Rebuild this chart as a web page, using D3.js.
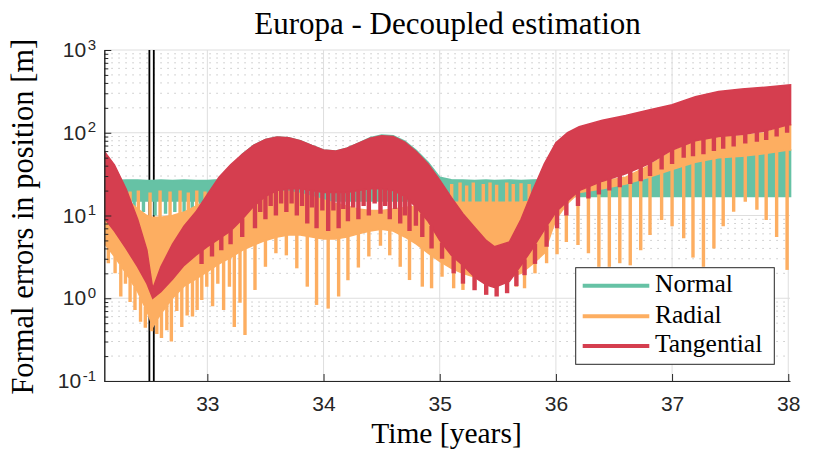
<!DOCTYPE html>
<html>
<head>
<meta charset="utf-8">
<script src="https://cdn.jsdelivr.net/npm/d3@7"></script>
<style>
  body { margin: 0; background: #fff; }
</style>
</head>
<body>
<div id="chart"></div>
<script>
// envelope sample times (years) for the three dense series
const bandT = [32.12, 32.2, 32.3, 32.4, 32.48, 32.53, 32.6, 32.7, 32.8, 32.9,
  33.0, 33.1, 33.2, 33.3, 33.4, 33.5, 33.6, 33.7, 33.8, 33.9,
  34.0, 34.1, 34.2, 34.3, 34.4, 34.5, 34.6, 34.7, 34.8, 34.9,
  35.0, 35.1, 35.2, 35.3, 35.4, 35.47, 35.6, 35.7, 35.8, 35.9,
  36.0, 36.1, 36.2, 36.4, 36.6, 36.8, 37.0, 37.2, 37.4, 37.6,
  37.8, 38.0, 38.02];

// Normal (teal)
const normalHi = [26.5, 26.5, 26.8, 26.8, 26.5, 26.5, 26.8, 26.5, 26.8, 26.5,
  26.5, 27, 38, 55, 71, 83, 89, 87, 80, 70,
  62, 60, 65, 75, 87, 94, 92, 79, 61, 44,
  29, 27, 26.8, 26.5, 26.8, 26.5, 26.8, 26.5, 26.8, 27,
  27, 27, 27, 27, 27.5, 31, 38, 46, 50, 53,
  57, 62, 62];
const normalLo = [15, 15, 15, 15, 15, 15, 15, 15, 15, 15,
  15, 15, 15, 15, 15, 15, 15, 15, 15, 15,
  15, 15, 15, 15, 15, 15, 15, 15, 15, 15,
  15, 14.5, 14.5, 14.5, 14.5, 14.5, 14.5, 14.5, 14.5, 14.5,
  17, 17, 17, 17, 17, 17, 17, 17, 17, 17,
  17, 17, 17];

// Radial (orange)
const radialHi = [22, 20, 16, 12, 10, 9.5, 9.5, 10, 11, 13,
  15, 14.5, 14.5, 15.5, 17, 18.5, 19.5, 19.5, 18.5, 17,
  15.5, 14, 13, 12, 11.5, 11.5, 12, 12.5, 13, 13.5,
  14, 14.5, 14.5, 14.5, 14.5, 14.5, 14.5, 14.5, 15, 15.5,
  17, 19, 23, 26, 29, 40, 60, 78, 88, 92,
  100, 125, 125];
const radialLo = [4.5, 3.2, 2.0, 1.2, 0.7, 0.45, 0.65, 1.0, 1.4, 1.7,
  2.1, 2.6, 3.1, 3.8, 4.4, 5, 5.5, 5.8, 5.8, 5.5,
  5.2, 5.2, 5.5, 6, 6.5, 6.8, 6.5, 5.5, 4.5, 3.5,
  2.8, 2.3, 2.0, 1.8, 1.7, 1.7, 1.8, 2.0, 2.6, 3.5,
  9, 14, 19, 21, 24, 29, 36, 44, 50, 52,
  56, 62, 62];

// Tangential (red)
const tangHi = [58, 41, 21, 9, 3.8, 1.3, 2.4, 4.5, 7.5, 11,
  18, 29, 41, 55, 71, 83, 89, 87, 80, 70,
  62, 60, 65, 75, 86, 92, 90, 77, 59, 42,
  27, 16.5, 10.5, 7.2, 5, 4.2, 4.8, 9, 20, 42,
  76, 100, 118, 142, 162, 188, 218, 272, 315, 338,
  355, 378, 380];
const tangLo = [9, 6.5, 4, 2.4, 1.5, 1.0, 1.2, 1.7, 2.5, 3.3,
  4.2, 5.2, 6.5, 9, 13, 17, 20, 21, 21, 20,
  19, 19, 19, 20, 21, 21, 20, 17, 12.5, 8.5,
  5, 3.3, 2.5, 1.8, 1.45, 1.35, 1.6, 2.5, 4, 6.7,
  11, 15, 20, 26, 32, 42, 62, 80, 90, 95,
  105, 125, 125];

// downward spikes of the radial error [time, value]
const radialDown = [[32.148, 2.65], [32.206, 2.0], [32.255, 1.05], [32.295, 1.5], [32.335, 0.9],
  [32.377, 0.72], [32.425, 0.52], [32.466, 0.44], [32.52, 0.4], [32.565, 0.37],
  [32.605, 0.33], [32.651, 0.41], [32.69, 0.3], [32.737, 0.7], [32.78, 0.45],
  [32.826, 0.62], [32.872, 0.6], [32.912, 0.72], [32.952, 0.95], [32.995, 1.38],
  [33.045, 0.8], [33.09, 1.5], [33.14, 0.72], [33.19, 1.38], [33.232, 0.45],
  [33.281, 0.88], [33.324, 0.36], [33.41, 1.26], [33.50, 2.4], [33.59, 3.5],
  [33.68, 3.3], [33.77, 2.3], [33.86, 1.38], [33.94, 0.83], [34.04, 0.75],
  [34.13, 1.05], [34.21, 1.65], [34.30, 2.35], [34.39, 3.2], [34.49, 4.3],
  [34.57, 3.3], [34.66, 2.4], [34.74, 1.66], [34.85, 1.38], [34.93, 1.32],
  [35.02, 1.82], [35.12, 1.32], [35.20, 1.26], [35.30, 1.38], [35.40, 1.38],
  [35.49, 1.6], [35.58, 1.53], [35.66, 1.38], [35.73, 1.32], [35.82, 2.0],
  [35.92, 2.65], [36.01, 3.4], [36.09, 4.8], [36.19, 4.4], [36.28, 3.5],
  [36.37, 2.4], [36.46, 2.4], [36.55, 2.65], [36.64, 2.5], [36.73, 3.8],
  [36.81, 5.8], [36.91, 8.8], [37.00, 7.4], [37.10, 5.3], [37.18, 3.1],
  [37.27, 2.4], [37.36, 4.0], [37.44, 7.4], [37.53, 11.1], [37.63, 14.7],
  [37.73, 11.7], [37.81, 8.8], [37.90, 5.5], [37.99, 2.2]];

// upward spikes of the radial error into the normal band
const radialUp = [[32.335, 19.5], [32.406, 20], [32.507, 19], [32.593, 20], [32.679, 19.5],
  [32.765, 20], [32.836, 19], [32.909, 20], [32.98, 19.5],
  [35.103, 24], [35.175, 25], [35.232, 23], [35.289, 25], [35.375, 24],
  [35.433, 25], [35.49, 23.5], [35.577, 25], [35.633, 24], [35.70, 24.5], [35.77, 24]];

// lower teeth of the normal band
const normalTeeth = [[32.25, 11], [32.29, 11.5], [32.37, 10.5], [32.45, 11], [32.55, 10],
  [32.64, 10.5], [32.72, 11], [32.80, 10.5], [32.87, 11], [32.94, 11.5], [33.02, 12]];

// lower teeth of the tangential band
const tangTeeth = [[32.95, 2.6], [33.04, 3.2], [33.12, 3.8], [33.2, 4.5], [33.3, 5.5],
  [33.41, 7], [33.455, 11], [33.50, 9], [33.545, 13], [33.59, 10], [33.635, 14],
  [33.68, 11], [33.725, 14], [33.77, 10], [33.815, 13], [33.86, 8], [33.90, 12.5],
  [33.94, 7], [33.99, 11.5], [34.04, 6.5], [34.085, 11.5], [34.13, 7], [34.17, 12],
  [34.21, 8.5], [34.255, 12.5], [34.30, 9], [34.345, 13], [34.39, 10], [34.44, 14],
  [34.49, 10.5], [34.53, 13], [34.57, 9], [34.615, 12], [34.66, 8], [34.70, 10],
  [34.74, 6.5], [34.795, 7.5], [34.85, 5.5], [34.93, 4], [35.02, 3], [35.12, 2],
  [35.20, 1.5], [35.30, 1.25], [35.40, 1.1], [35.49, 1.05], [35.58, 1.15],
  [35.66, 1.4], [35.73, 1.9], [35.82, 2.6], [35.92, 4.2], [36.01, 7],
  [36.09, 10], [36.19, 13], [36.28, 16], [36.37, 18], [36.46, 20],
  [36.55, 22], [36.64, 24], [36.73, 26], [36.81, 30], [36.91, 36],
  [37.00, 42], [37.10, 50], [37.18, 52], [37.27, 55], [37.36, 60],
  [37.44, 64], [37.53, 68], [37.63, 74], [37.73, 78], [37.81, 82],
  [37.90, 90], [37.99, 100]];

const markerTimes = [32.501, 32.539];
const xTicks = [33, 34, 35, 36, 37, 38];
const yDecades = [0.1, 1, 10, 100, 1000];
const yExponents = ['-1', '0', '1', '2', '3'];
const yMinorMult = [2, 3, 4, 5, 6, 7, 8, 9];
const seriesNames = ['Normal', 'Radial', 'Tangential'];
const seriesColors = ['#66c2a5', '#fdae61', '#d53e4f'];

const W = 830, H = 464;
const plotL = 104.3, plotR = 790, plotT = 50, plotB = 381;
const serif = '"Liberation Serif", "Times New Roman", serif';
const sans = '"Liberation Sans", Arial, Helvetica, sans-serif';

const x = d3.scaleLinear().domain([32.113, 38.015]).range([plotL, plotR]);
const y = d3.scaleLog().domain([0.1, 1000]).range([plotB, plotT]);

const svg = d3.select('#chart').append('svg')
  .attr('width', W).attr('height', H)
  .style('background', '#fff');

svg.append('defs').append('clipPath').attr('id', 'plotclip')
  .append('rect').attr('x', plotL).attr('y', plotT)
  .attr('width', plotR - plotL + 2).attr('height', plotB - plotT);

// grid
const yMinor = [];
yDecades.slice(0, -1).forEach(d => yMinorMult.forEach(m => yMinor.push(d * m)));

const grid = svg.append('g');
grid.selectAll('.minor').data(yMinor).enter().append('line')
  .attr('x1', plotL).attr('x2', plotR)
  .attr('y1', d => y(d)).attr('y2', d => y(d))
  .attr('stroke', '#c6c6c6').attr('stroke-width', 1)
  .attr('stroke-dasharray', '1.5,5.5');
grid.selectAll('.hmajor').data(yDecades).enter().append('line')
  .attr('x1', plotL).attr('x2', plotR)
  .attr('y1', d => y(d)).attr('y2', d => y(d))
  .attr('stroke', '#dedede').attr('stroke-width', 1);
grid.selectAll('.vmajor').data(xTicks).enter().append('line')
  .attr('x1', d => x(d)).attr('x2', d => x(d))
  .attr('y1', plotT).attr('y2', plotB)
  .attr('stroke', '#dedede').attr('stroke-width', 1);

const plot = svg.append('g').attr('clip-path', 'url(#plotclip)');

// black marker lines (behind the data)
plot.selectAll('.marker').data(markerTimes).enter().append('line')
  .attr('x1', d => x(d)).attr('x2', d => x(d))
  .attr('y1', plotT).attr('y2', plotB)
  .attr('stroke', '#000').attr('stroke-width', 1.8);

function drawSeries(hi, lo, color, down, up, spikeW) {
  const rows = bandT.map((t, i) => ({ t: t, hi: hi[i], lo: lo[i] }));
  const area = d3.area()
    .x(d => x(d.t)).y0(d => y(d.lo)).y1(d => y(d.hi));
  plot.append('path').datum(rows)
    .attr('d', area)
    .attr('fill', color).attr('stroke', color).attr('stroke-width', 1.5);

  const loPx = d3.scaleLinear().domain(bandT).range(lo.map(v => y(v)));
  const hiPx = d3.scaleLinear().domain(bandT).range(hi.map(v => y(v)));

  plot.append('g').selectAll('line').data(down).enter().append('line')
    .attr('x1', d => x(d[0])).attr('x2', d => x(d[0]))
    .attr('y1', d => loPx(d[0]) - 1).attr('y2', d => y(d[1]))
    .attr('stroke', color).attr('stroke-width', spikeW);

  if (up) {
    plot.append('g').selectAll('line').data(up).enter().append('line')
      .attr('x1', d => x(d[0])).attr('x2', d => x(d[0]))
      .attr('y1', d => hiPx(d[0]) + 1).attr('y2', d => y(d[1]))
      .attr('stroke', color).attr('stroke-width', spikeW);
  }
}

drawSeries(normalHi, normalLo, seriesColors[0], normalTeeth, null, 3.4);
drawSeries(radialHi, radialLo, seriesColors[1], radialDown, radialUp, 3.4);
drawSeries(tangHi, tangLo, seriesColors[2], tangTeeth, null, 4.4);

// axes
const xAxis = d3.axisBottom(x).tickValues(xTicks).tickSize(-7).tickSizeOuter(0)
  .tickPadding(15.5).tickFormat(d3.format('d'));
svg.append('g').attr('transform', `translate(0,${plotB})`)
  .attr('color', '#262626')
  .call(xAxis)
  .attr('font-size', 21).attr('font-family', sans);

const yMinorAxis = d3.axisLeft(y).tickValues(yMinor).tickSize(-4).tickSizeOuter(0)
  .tickFormat(() => '');
svg.append('g').attr('transform', `translate(${plotL},0)`)
  .attr('color', '#262626')
  .call(yMinorAxis);

const yAxis = d3.axisLeft(y).tickValues(yDecades).tickSize(-7).tickSizeOuter(0)
  .tickPadding(8.3).tickFormat(() => '');
const yg = svg.append('g').attr('transform', `translate(${plotL},0)`)
  .attr('color', '#262626')
  .call(yAxis)
  .attr('font-size', 21).attr('font-family', sans);
yg.selectAll('.tick text').each(function (d, i) {
  const t = d3.select(this);
  t.append('tspan').text('10');
  t.append('tspan').attr('dx', 1.5).attr('dy', '-0.5em')
    .attr('font-size', 15).text(yExponents[i]);
});

// titles
svg.append('text')
  .attr('x', 447.5).attr('y', 34)
  .attr('text-anchor', 'middle')
  .attr('font-family', serif).attr('font-size', 31)
  .attr('fill', '#000')
  .text('Europa - Decoupled estimation');

svg.append('text')
  .attr('x', 446.5).attr('y', 443)
  .attr('text-anchor', 'middle')
  .attr('font-family', serif).attr('font-size', 29.5)
  .attr('fill', '#000')
  .text('Time [years]');

svg.append('text')
  .attr('transform', 'translate(32.5,216.7) rotate(-90)')
  .attr('text-anchor', 'middle')
  .attr('font-family', serif).attr('font-size', 30.5)
  .attr('fill', '#000')
  .text('Formal errors in position [m]');

// legend
const lg = svg.append('g');
lg.append('rect')
  .attr('x', 575.7).attr('y', 267.7)
  .attr('width', 198.6).attr('height', 96.6)
  .attr('fill', '#fff').attr('stroke', '#262626').attr('stroke-width', 1);
const legendY = [285.7, 316.3, 346];
seriesNames.forEach((name, i) => {
  lg.append('line')
    .attr('x1', 582.7).attr('x2', 649.3)
    .attr('y1', legendY[i]).attr('y2', legendY[i])
    .attr('stroke', seriesColors[i]).attr('stroke-width', 4);
  lg.append('text')
    .attr('x', 655).attr('y', legendY[i] + 6.2)
    .attr('font-family', serif).attr('font-size', 25.5)
    .attr('fill', '#000')
    .text(name);
});
</script>
</body>
</html>
